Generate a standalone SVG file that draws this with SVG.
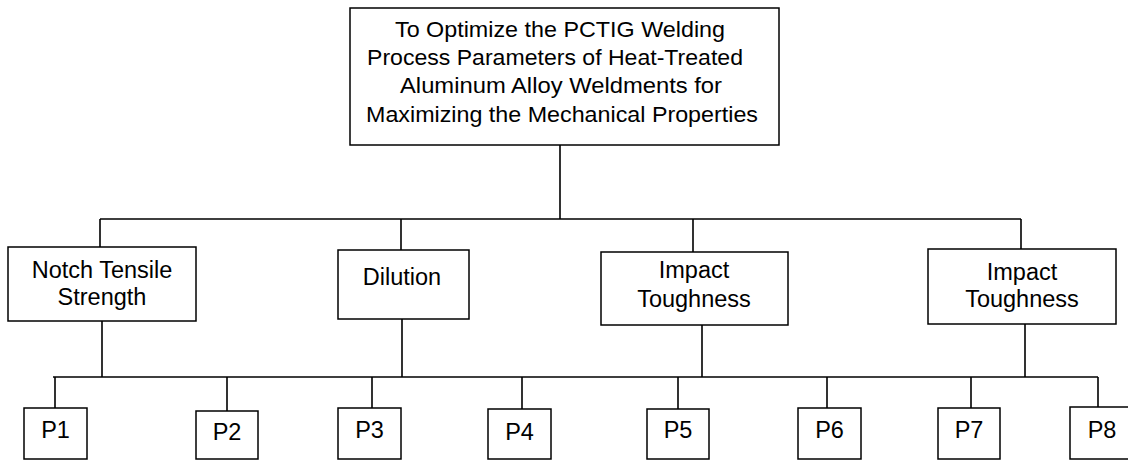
<svg xmlns="http://www.w3.org/2000/svg" width="1128" height="461" viewBox="0 0 1128 461">
<style>
.box{fill:#fff;stroke:#000;stroke-width:1.5}
.ln{fill:none;stroke:#000;stroke-width:1.6}
text{font-family:"Liberation Sans",Arial,sans-serif;font-size:23.5px;fill:#000;text-anchor:middle}
.t{font-size:22px}
</style>
<rect width="1128" height="461" fill="#fff"/>
<g id="connectors">
<path class="ln" d="M560 145V219M100 219H1021M100 219V247M401 219V250M693 219V252M1021 219V249"/>
<path class="ln" d="M102 321V377M402 319V377M702 325V377M1025 324V377M53 377H1098"/>
<path class="ln" d="M55 377V408M227 377V411M372 377V408M522 377V409M678 377V409M827 377V408M971 377V408M1098 377V407"/>
</g>
<g id="goal">
<rect class="box" x="350" y="8" width="429" height="137"/>
<text class="t" x="560" y="37" textLength="330" lengthAdjust="spacingAndGlyphs">To Optimize the PCTIG Welding</text>
<text class="t" x="555" y="65" textLength="376" lengthAdjust="spacingAndGlyphs">Process Parameters of Heat-Treated</text>
<text class="t" x="561" y="93" textLength="322" lengthAdjust="spacingAndGlyphs">Aluminum Alloy Weldments for</text>
<text class="t" x="562" y="122" textLength="392" lengthAdjust="spacingAndGlyphs">Maximizing the Mechanical Properties</text>
</g>
<g id="c1">
<rect class="box" x="8" y="247" width="188" height="74"/>
<text x="102" y="278">Notch Tensile</text>
<text x="102" y="305">Strength</text>
</g>
<g id="c2">
<rect class="box" x="338" y="250" width="131" height="69"/>
<text x="402" y="285">Dilution</text>
</g>
<g id="c3">
<rect class="box" x="601" y="252" width="187" height="73"/>
<text x="694" y="278">Impact</text>
<text x="694" y="307">Toughness</text>
</g>
<g id="c4">
<rect class="box" x="928" y="249" width="188" height="75"/>
<text x="1022" y="280">Impact</text>
<text x="1022" y="307">Toughness</text>
</g>
<g id="p1"><rect class="box" x="24" y="408" width="63" height="51"/><text x="55.5" y="438">P1</text></g>
<g id="p2"><rect class="box" x="196" y="411" width="62" height="48"/><text x="227" y="440">P2</text></g>
<g id="p3"><rect class="box" x="338" y="408" width="63" height="51"/><text x="369.5" y="438">P3</text></g>
<g id="p4"><rect class="box" x="488" y="409" width="63" height="50"/><text x="519.5" y="440">P4</text></g>
<g id="p5"><rect class="box" x="647" y="409" width="62" height="50"/><text x="678" y="438">P5</text></g>
<g id="p6"><rect class="box" x="798" y="408" width="63" height="51"/><text x="829.5" y="438">P6</text></g>
<g id="p7"><rect class="box" x="938" y="408" width="62" height="51"/><text x="969" y="438">P7</text></g>
<g id="p8"><rect class="box" x="1070" y="407" width="63" height="52"/><text x="1102" y="438">P8</text></g>
</svg>
